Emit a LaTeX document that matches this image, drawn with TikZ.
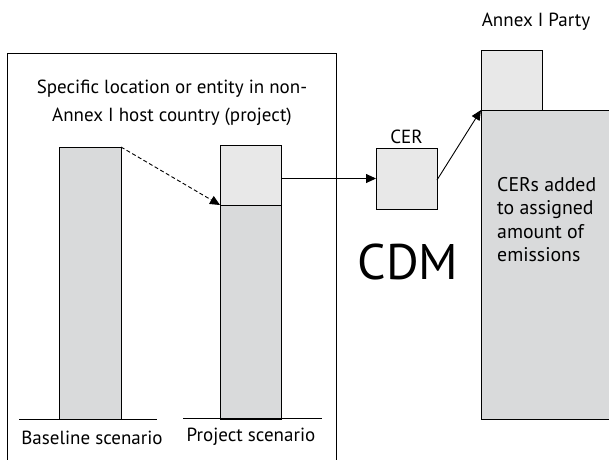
\documentclass[tikz,border=0pt]{standalone}
\usepackage{fontspec}
\setmainfont{PT Sans}
\usetikzlibrary{arrows.meta}
\definecolor{bargray}{HTML}{D9DADB}
\definecolor{lightgray}{HTML}{E8E8E8}
\begin{document}
\begin{tikzpicture}[x=1pt,y=-1pt,
  box/.style={draw=black,line width=0.9pt,inner sep=0pt,outer sep=0pt,anchor=north west},
  bar/.style={box,fill=bargray},
  lbox/.style={box,fill=lightgray},
  lbl/.style={font=\fontsize{19}{28}\selectfont,inner sep=0pt},
  conn/.style={line width=0.9pt,-{Triangle[length=10pt,width=9pt]}},
  ground/.style={line width=0.9pt}]
\useasboundingbox (0,0) rectangle (609,459);
\clip (0,0) rectangle (609,459);
% outer frame
\coordinate (fbl) at (7,470);
\coordinate (ftl) at (7,53);
\coordinate (ftr) at (336,53);
\coordinate (fbr) at (336,470);
\draw[line width=0.9pt] (fbl) -- (ftl) -- (ftr) -- (fbr);
\node[lbl,align=center] (title) at (172,103) {Specific location or entity in non-\\Annex I host country (project)};
% baseline bar
\node[bar,minimum width=62pt,minimum height=272pt] (base) at (59,147) {};
\coordinate (bg1) at (19,419);
\coordinate (bg2) at (157,419);
\draw[ground] (bg1) -- (bg2);
\node[lbl] (baselbl) at (92,438) {Baseline scenario};
% project bar
\node[bar,minimum width=61pt,minimum height=214pt] (proj) at (220,205) {};
\node[lbox,minimum width=61pt,minimum height=60pt] (red) at (220,145) {};
\coordinate (pg1) at (183,418);
\coordinate (pg2) at (322,418);
\draw[ground] (pg1) -- (pg2);
\node[lbl] (projlbl) at (251,437) {Project scenario};
% dashed arrow
\draw[conn,dashed,dash pattern=on 4pt off 2.5pt] (base.north east) -- (proj.north west);
% CER box
\node[lbox,minimum width=61pt,minimum height=61pt] (cer) at (376,148) {};
\node[lbl,anchor=south] (cerlbl) at (cer.north) [yshift=4pt] {CER};
\draw[conn] (red.east |- cer.west) -- (cer.west);
% Annex I Party
\node[bar,minimum width=140pt,minimum height=309pt] (annex) at (481,110) {};
\node[lbox,minimum width=61pt,minimum height=60pt] (added) at (481,50) {};
\node[lbl] (annexlbl) at (536,22) {Annex I Party};
\node[inner sep=0pt,font=\fontsize{19.8}{23.5}\selectfont,anchor=north west,align=left] (annextxt) at (497,177) {CERs added\\to assigned\\amount of\\emissions};
\coordinate (cerout) at (437,180);
\draw[conn] (cerout) -- (annex.north west);
% CDM
\node[inner sep=0pt,font=\fontsize{50}{56}\selectfont] (cdm) at (408,262) {CDM};
\end{tikzpicture}
\end{document}
